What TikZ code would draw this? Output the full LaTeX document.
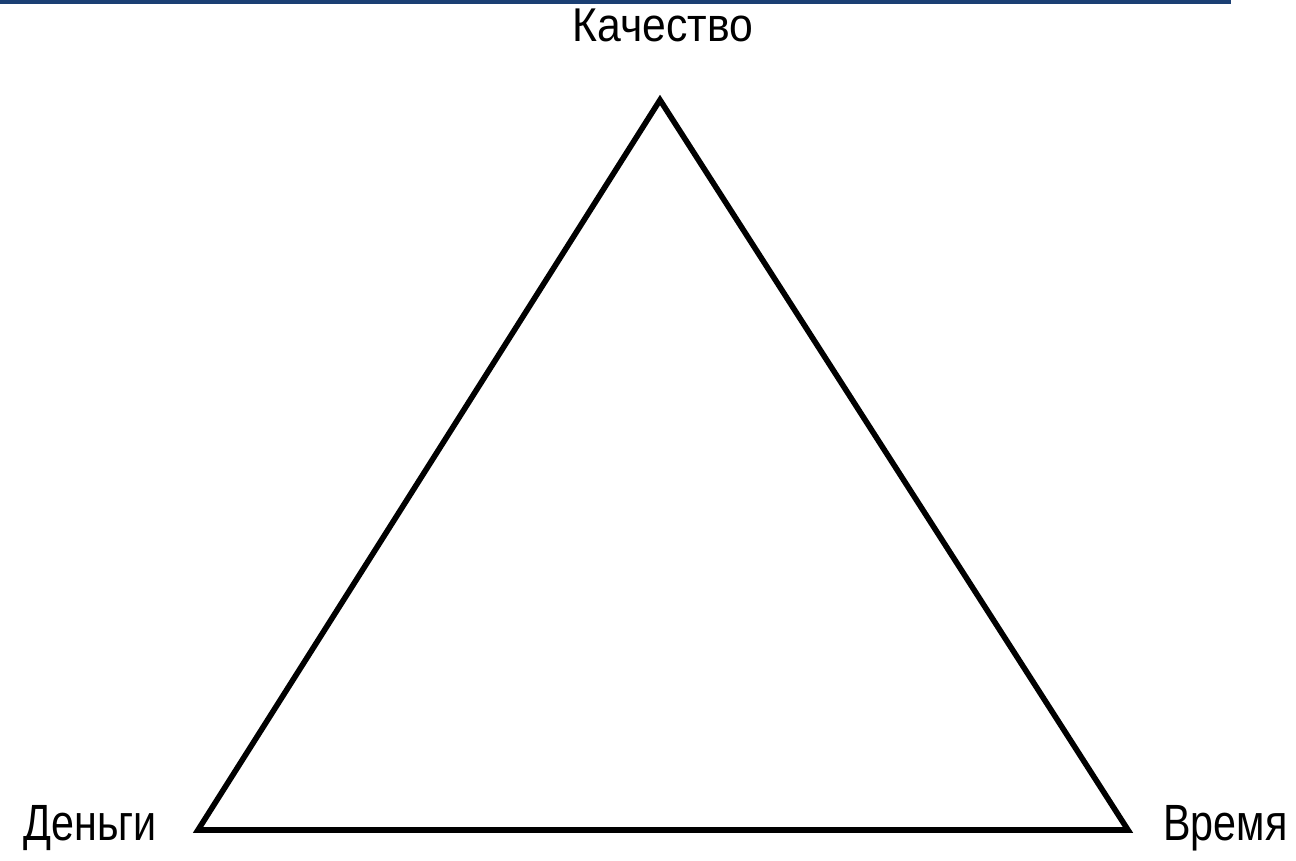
\documentclass[tikz,border=0pt]{standalone}
\usepackage{fontspec}
\setmainfont{Liberation Sans}
\usepackage{xcolor}
\usetikzlibrary{positioning}
\definecolor{barBlue}{HTML}{1B3F73}
\newcommand{\narrowtxt}[2][0.81]{\scalebox{#1}[1]{#2}}
\tikzset{
  tlabel/.style={inner sep=0pt,font=\fontsize{27}{32}\selectfont,anchor=base},
  blabel/.style={inner sep=0pt,font=\fontsize{29}{34}\selectfont,anchor=base west},
  tedge/.style={line width=3.2pt,line join=miter},
}

\begin{document}
\begin{tikzpicture}[x=0.02cm,y=0.02cm]
\useasboundingbox (0,0) rectangle (1296,860);
\fill[barBlue] (0,856) rectangle (1231,860);
\coordinate (q) at (660,760);
\coordinate (m) at (198,30);
\coordinate (t) at (1128,30);
\draw[tedge] (q) -- (m) -- (t) -- cycle;
\node[tlabel] (qual) at (663,818) {\narrowtxt[0.9]{Качество}};
\node[blabel] (money) at (23,20) {\narrowtxt{Деньги}};
\node[blabel] (time) at (1163,20) {\narrowtxt{Время}};
\end{tikzpicture}
\end{document}
